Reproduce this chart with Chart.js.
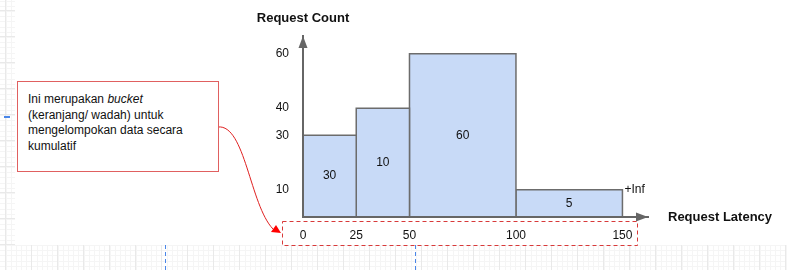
<!DOCTYPE html>
<html>
<head>
<meta charset="utf-8">
<script src="https://cdn.jsdelivr.net/npm/chart.js@4/dist/chart.umd.min.js"></script>
<style>
  html, body { margin: 0; padding: 0; background: #fff; }
  #wrap { position: relative; width: 787px; height: 270px; }
  #note {
    position: absolute; left: 17px; top: 81px; width: 182px; height: 79px;
    padding: 10px 8px 0 10px; background: #fff; border: 1px solid #e06060;
    font: 12px "Liberation Sans", Arial, sans-serif; line-height: 15.5px; color: #111;
  }
</style>
</head>
<body>
<div id="wrap">
  <canvas id="histChart"></canvas>
  <div id="note">Ini merupakan <i>bucket</i><br>(keranjang/ wadah) untuk<br>mengelompokan data secara<br>kumulatif</div>
</div>
<script>
const bucketEdges = [0, 25, 50, 100, 150];
const barHeights = [30, 40, 60, 10];
const bucketCounts = [30, 10, 60, 5];
const yTickValues = [10, 30, 40, 60];
const xTickValues = [0, 25, 50, 100, 150];

const FONT = '"Liberation Sans", Arial, sans-serif';
const AXIS = '#666';

const datasets = barHeights.map((h, i) => ({
  data: [
    { x: bucketEdges[i], y: 0 },
    { x: bucketEdges[i], y: h },
    { x: bucketEdges[i + 1], y: h },
    { x: bucketEdges[i + 1], y: 0 }
  ],
  showLine: true,
  fill: 'origin',
  backgroundColor: '#c8daf7',
  borderColor: '#6c6c6c',
  borderWidth: 1.5,
  pointRadius: 0,
  tension: 0
}));

// draw.io style grid around the white page
function paperGrid(ctx, x0, y0, x1, y1) {
  ctx.save();
  ctx.beginPath();
  ctx.rect(x0, y0, x1 - x0, y1 - y0);
  ctx.clip();
  ctx.lineWidth = 1;
  ctx.strokeStyle = '#f5f5f5';
  for (let x = 5.5; x < x1; x += 5.2) { ctx.beginPath(); ctx.moveTo(Math.round(x) + 0.5, y0); ctx.lineTo(Math.round(x) + 0.5, y1); ctx.stroke(); }
  for (let y = 245; y > -30; y -= 5.2) { ctx.beginPath(); ctx.moveTo(x0, Math.round(y) + 0.5); ctx.lineTo(x1, Math.round(y) + 0.5); ctx.stroke(); }
  for (let y = 250.2; y < y1; y += 5.2) { ctx.beginPath(); ctx.moveTo(x0, Math.round(y) + 0.5); ctx.lineTo(x1, Math.round(y) + 0.5); ctx.stroke(); }
  ctx.strokeStyle = '#e9e9e9';
  for (let x = 5; x < x1; x += 26) { ctx.beginPath(); ctx.moveTo(Math.round(x) + 0.5, y0); ctx.lineTo(Math.round(x) + 0.5, y1); ctx.stroke(); }
  for (let y = 245; y > -30; y -= 26) { ctx.beginPath(); ctx.moveTo(x0, y - 0.5); ctx.lineTo(x1, y - 0.5); ctx.stroke(); }
  ctx.restore();
}

const decor = {
  id: 'decor',
  beforeDraw(chart) {
    const ctx = chart.ctx;
    ctx.save();
    ctx.fillStyle = '#fff';
    ctx.fillRect(0, 0, chart.width, chart.height);
    paperGrid(ctx, 0, 0, 15, 245);
    paperGrid(ctx, 0, 245, chart.width, chart.height);
    ctx.strokeStyle = '#4a86e8';
    ctx.lineWidth = 1;
    ctx.setLineDash([4, 3]);
    [165.5, 415.5].forEach(x => {
      ctx.beginPath(); ctx.moveTo(x, 245); ctx.lineTo(x, chart.height); ctx.stroke();
    });
    ctx.setLineDash([]);
    ctx.lineWidth = 2;
    ctx.beginPath(); ctx.moveTo(4, 117); ctx.lineTo(10, 117); ctx.stroke();
    ctx.restore();
  },
  afterDraw(chart) {
    const ctx = chart.ctx;
    const xs = chart.scales.x, ys = chart.scales.y;
    const { left, right, top, bottom } = chart.chartArea;
    ctx.save();

    // axis arrow heads
    ctx.fillStyle = AXIS;
    ctx.beginPath(); ctx.moveTo(left, top); ctx.lineTo(left - 4.5, top + 12); ctx.lineTo(left + 4.5, top + 12); ctx.closePath(); ctx.fill();
    ctx.beginPath(); ctx.moveTo(right, bottom); ctx.lineTo(right - 12, bottom - 4.5); ctx.lineTo(right - 12, bottom + 4.5); ctx.closePath(); ctx.fill();

    // axis titles
    ctx.fillStyle = '#111';
    ctx.font = 'bold 13px ' + FONT;
    ctx.textBaseline = 'middle';
    ctx.textAlign = 'center';
    ctx.fillText('Request Count', left, 18);
    ctx.textAlign = 'left';
    ctx.fillText('Request Latency', right + 20, bottom);

    // counts inside the buckets
    ctx.font = '12px ' + FONT;
    ctx.textAlign = 'center';
    barHeights.forEach((h, i) => {
      const cx = xs.getPixelForValue((bucketEdges[i] + bucketEdges[i + 1]) / 2);
      const cy = ys.getPixelForValue(h / 2);
      ctx.fillText(String(bucketCounts[i]), cx, cy);
    });
    const last = barHeights.length - 1;
    ctx.textAlign = 'left';
    ctx.fillText('+Inf', xs.getPixelForValue(bucketEdges[last + 1]) + 2, ys.getPixelForValue(barHeights[last]));

    // dashed box round the bucket bounds
    ctx.strokeStyle = '#d83a3a';
    ctx.lineWidth = 1;
    ctx.setLineDash([4, 3]);
    const bx0 = left - 21, bx1 = xs.getPixelForValue(150) + 15;
    ctx.strokeRect(Math.round(bx0) + 0.5, 221.5, Math.round(bx1 - bx0), 24);
    ctx.setLineDash([]);

    // curved pointer from the note
    ctx.strokeStyle = '#e02020';
    ctx.beginPath();
    ctx.moveTo(218, 127);
    ctx.bezierCurveTo(245, 124, 250, 205, 273, 229);
    ctx.stroke();
    ctx.fillStyle = '#f00';
    ctx.beginPath();
    ctx.moveTo(281, 233);
    ctx.lineTo(271, 232);
    ctx.lineTo(276, 225);
    ctx.closePath();
    ctx.fill();
    ctx.restore();
  }
};

new Chart(document.getElementById('histChart').getContext('2d'), {
  type: 'scatter',
  data: { datasets },
  options: {
    responsive: true,
    maintainAspectRatio: false,
    animation: false,
    layout: { padding: { top: 36, right: 139, bottom: 0, left: 0 } },
    plugins: { legend: { display: false }, tooltip: { enabled: false } },
    scales: {
      x: {
        type: 'linear',
        min: 0,
        max: 162,
        afterFit: s => { s.height = 53; },
        afterBuildTicks: s => { s.ticks = xTickValues.map(v => ({ value: v })); },
        grid: { display: false, drawTicks: false },
        border: { display: true, color: AXIS, width: 2, z: 1 },
        ticks: { padding: 11, color: '#111', font: { family: FONT, size: 12 }, maxRotation: 0 }
      },
      y: {
        type: 'linear',
        min: 0,
        max: 66.5,
        afterFit: s => { s.width = 303; },
        afterBuildTicks: s => { s.ticks = yTickValues.map(v => ({ value: v })); },
        grid: { display: false, drawTicks: false },
        border: { display: true, color: AXIS, width: 2, z: 1 },
        ticks: { padding: 14, color: '#111', font: { family: FONT, size: 12 } }
      }
    }
  },
  plugins: [decor]
});
</script>
</body>
</html>
